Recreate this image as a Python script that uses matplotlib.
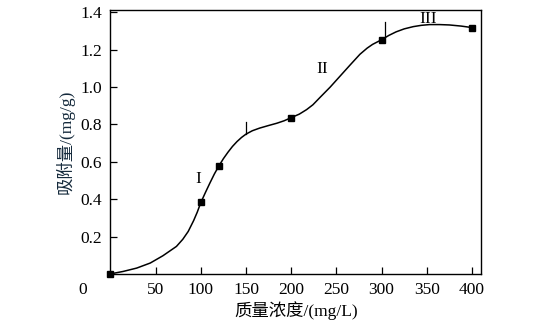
import matplotlib
matplotlib.use('Agg')
from matplotlib import pyplot as plt

plt.rcParams['font.family'] = ['Liberation Serif', 'Noto Sans CJK SC']

# measured points
conc = [0, 100, 120, 200, 300, 400]
ads = [0.0, 0.382, 0.578, 0.836, 1.253, 1.318]

# fitted curve
curve_x = [0, 14, 29, 44, 58, 73, 80, 86, 92, 96, 100, 105, 110, 115, 120,
           125, 130, 135, 140, 145, 150, 157, 165, 175, 184, 192, 200, 209,
           217, 224, 232, 243, 254, 265, 276, 284, 290, 300, 308, 316, 325,
           335, 344, 353, 364, 375, 388, 400]
curve_y = [0.0, 0.013, 0.031, 0.058, 0.097, 0.147, 0.185, 0.227, 0.285, 0.33,
           0.382, 0.435, 0.486, 0.535, 0.578, 0.617, 0.651, 0.682, 0.708, 0.73,
           0.748, 0.766, 0.78, 0.794, 0.806, 0.819, 0.836, 0.855, 0.879, 0.905,
           0.945, 0.999, 1.058, 1.117, 1.175, 1.208, 1.228, 1.253, 1.276,
           1.295, 1.311, 1.323, 1.33, 1.334, 1.334, 1.332, 1.326, 1.318]

# stage boundaries and labels
bound_x = [150, 304]
bound_lo = [0.748, 1.275]
bound_hi = [0.815, 1.35]
stage_names = ['I', 'II', 'III']
stage_x = [97, 234, 351]
stage_y = [0.51, 1.095, 1.362]

fig = plt.figure(figsize=(5.51, 3.28), dpi=100)
ax = fig.add_axes([0.2005, 0.165, 0.6725, 0.8045])

ax.plot(curve_x, curve_y, color='black', lw=1.1, solid_joinstyle='round')
ax.plot(conc, ads, 's', color='black', ms=5, clip_on=False)

for bx, lo, hi in zip(bound_x, bound_lo, bound_hi):
    ax.plot([bx, bx], [lo, hi], color='black', lw=0.9)

for name, sx, sy in zip(stage_names, stage_x, stage_y):
    ax.text(sx, sy, name, ha='center', va='center', fontsize=12.5)

ax.set_xlim(0, 410)
ax.set_ylim(0, 1.412)
ax.set_xticks([50, 100, 150, 200, 250, 300, 350, 400])
ax.set_yticks([0.2, 0.4, 0.6, 0.8, 1.0, 1.2, 1.4])
ax.set_yticklabels(['0.2', '0.4', '0.6', '0.8', '1.0', '1.2', '1.4'])
ax.tick_params(direction='in', length=5, width=0.9, labelsize=12.5, pad=6)
for s in ax.spines.values():
    s.set_linewidth(1.0)

ax.text(-0.074, -0.061, '0', transform=ax.transAxes, ha='center', va='center',
        fontsize=12.5)

ax.set_xlabel('质量浓度/(mg/L)', fontsize=12.5, labelpad=2)
ax.set_ylabel('吸附量/(mg/g)', fontsize=12.5, labelpad=4, color='#152a3c')

fig.savefig('out.png', dpi=100)
